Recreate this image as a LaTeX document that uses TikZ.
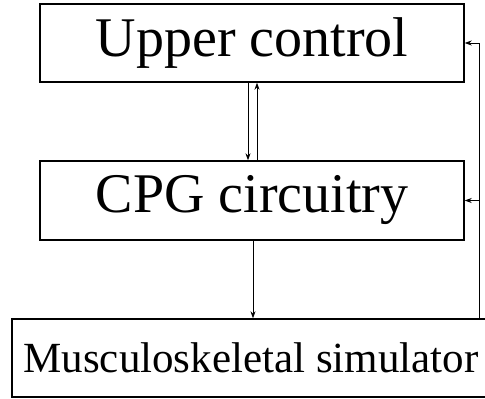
\documentclass[tikz,border=0pt]{standalone}
\usepackage{fontspec}
\setmainfont{Liberation Serif}
\usetikzlibrary{arrows.meta}
\begin{document}
\begin{tikzpicture}[x=1pt,y=1pt,
  blk/.style={draw,line width=1.4pt,rectangle,inner sep=0pt,align=center},
  conn/.style={line width=0.8pt,-{Stealth[length=7pt,width=5pt]}}]
\useasboundingbox (0,0) rectangle (485,-399);
\clip (0,0) rectangle (485,-399);
\node[blk,minimum width=424pt,minimum height=78pt,font=\fontsize{56}{60}\selectfont] (u) at (252,-43) {Upper control};
\node[blk,minimum width=424pt,minimum height=79pt,font=\fontsize{56}{60}\selectfont] (c) at (252,-200.5) {CPG circuitry};
\node[blk,minimum width=478pt,minimum height=78pt,font=\fontsize{43}{48}\selectfont] (m) at (251,-358) {Musculoskeletal simulator};
\coordinate (fb) at (479,-319);
\draw[conn] ([xshift=-4pt]u.south) -- ([xshift=-4pt]c.north);
\draw[conn] ([xshift=5pt]c.north) -- ([xshift=5pt]u.south);
\draw[conn] ([xshift=1pt]c.south) -- ([xshift=2pt]m.north);
\draw[conn] (fb) |- (u.east);
\draw[conn] (fb |- c.east) -- (c.east);
\end{tikzpicture}
\end{document}
